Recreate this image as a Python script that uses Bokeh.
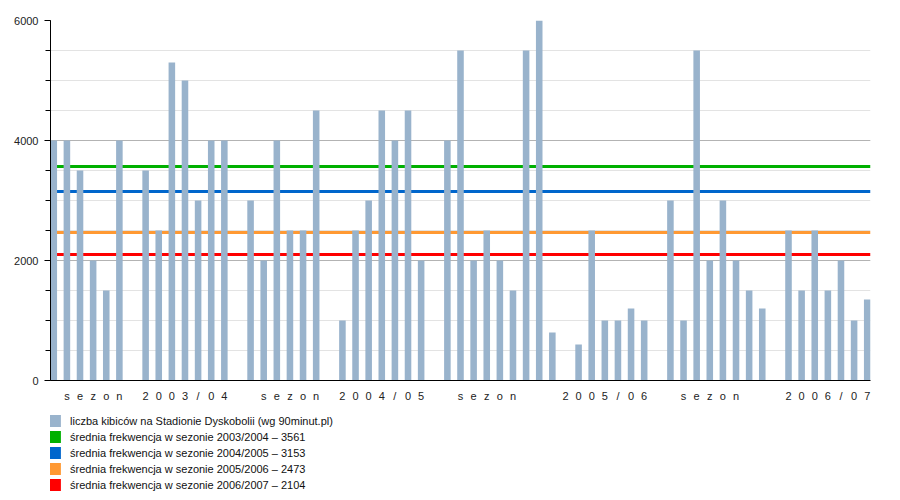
from bokeh.plotting import figure
from bokeh.layouts import column
from bokeh.models import (Range1d, FixedTicker, ColumnDataSource, Legend, LegendItem)
from bokeh.embed import file_html
from bokeh.resources import INLINE
import math

nan = float("nan")

# category labels (one per slot)
labels = ["", "s", "e", "z", "o", "n", "", "2", "0", "0", "3", "/", "0", "4",
          "", "", "s", "e", "z", "o", "n", "", "2", "0", "0", "4", "/", "0", "5",
          "", "", "s", "e", "z", "o", "n", "", "", "", "2", "0", "0", "5", "/", "0", "6",
          "", "", "s", "e", "z", "o", "n", "", "", "", "2", "0", "0", "6", "/", "0", "7"]

# attendance per match (nan = no bar)
attendance = [4000, 4000, 3500, 2000, 1500, 4000, nan, 3500, 2500, 5300, 5000, 3000, 4000, 4000,
              nan, 3000, 2000, 4000, 2500, 2500, 4500, nan, 1000, 2500, 3000, 4500, 4000, 4500, 2000,
              nan, 4000, 5500, 2000, 2500, 2000, 1500, 5500, 6000, 800, nan, 600, 2500, 1000, 1000, 1200, 1000,
              nan, 3000, 1000, 5500, 2000, 3000, 2000, 1500, 1200, nan, 2500, 1500, 2500, 1500, 2000, 1000, 1350]

bar_label = "liczba kibiców na Stadionie Dyskobolii (wg 90minut.pl)"
avg_labels = ["średnia frekwencja w sezonie 2003/2004 – 3561",
              "średnia frekwencja w sezonie 2004/2005 – 3153",
              "średnia frekwencja w sezonie 2005/2006 – 2473",
              "średnia frekwencja w sezonie 2006/2007 – 2104"]
avg_values = [3561, 3153, 2473, 2104]
avg_colors = ["#00b000", "#0066cc", "#ff9933", "#ff0000"]
bar_color = "#99b3cc"

positions = list(range(1, len(labels) + 1))
xs = [x for x, v in zip(positions, attendance) if not math.isnan(v)]
ys = [v for v in attendance if not math.isnan(v)]

FONT = "Liberation Sans"

p = figure(frame_width=820, frame_height=360,
           min_border_left=50, min_border_right=30, min_border_top=20, min_border_bottom=26,
           x_range=Range1d(0.75, len(labels) + 0.25), y_range=Range1d(0, 6000),
           output_backend="svg", toolbar_location=None, tools="")
p.outline_line_color = None
p.background_fill_color = "white"
p.border_fill_color = "white"

# average lines (drawn under bars)
for val, col in zip(avg_values, avg_colors):
    p.hspan(y=[val], line_color=col, line_width=3)

src = ColumnDataSource(dict(x=xs, top=ys))
p.vbar(x="x", top="top", width=0.5, source=src, fill_color=bar_color, line_color=None)

# axes
p.xaxis.ticker = FixedTicker(ticks=positions)
p.xaxis.major_label_overrides = {i: l for i, l in zip(positions, labels)}
p.xaxis.major_tick_line_color = None
p.xaxis.minor_tick_line_color = None
p.xaxis.axis_line_color = "black"
p.xaxis.major_label_standoff = 3
p.xaxis.major_label_text_font = FONT
p.xaxis.major_label_text_font_size = "11px"
p.xaxis.major_label_text_color = "#222222"

p.yaxis.ticker = FixedTicker(ticks=[0, 2000, 4000, 6000],
                             minor_ticks=list(range(0, 6001, 500)))
p.yaxis.axis_line_color = "black"
p.yaxis.major_tick_out = 6
p.yaxis.major_tick_in = 0
p.yaxis.minor_tick_out = 5
p.yaxis.minor_tick_in = 0
p.yaxis.major_label_standoff = 6
p.yaxis.major_label_text_font = FONT
p.yaxis.major_label_text_font_size = "11px"
p.yaxis.major_label_text_color = "#222222"

p.xgrid.grid_line_color = None
p.ygrid.ticker = FixedTicker(ticks=[0, 2000, 4000, 6000],
                             minor_ticks=list(range(0, 6001, 500)))
p.ygrid.grid_line_color = "#b3b3b3"
p.ygrid.minor_grid_line_color = "#e3e3e3"

# legend figure below the chart
q = figure(width=860, height=90, min_border=0, min_border_left=50,
           x_range=Range1d(0, 1), y_range=Range1d(0, 1),
           output_backend="svg", toolbar_location=None, tools="")
q.axis.visible = False
q.grid.visible = False
q.outline_line_color = None

# legend proxies: one swatch each, kept outside the visible range
proxy = ColumnDataSource(dict(x=[-5], top=[-5]))
items = []
for lab, col in zip([bar_label] + avg_labels, [bar_color] + avg_colors):
    r = q.vbar(x="x", top="top", width=0.5, source=proxy, fill_color=col, line_color=None)
    items.append(LegendItem(label=lab, renderers=[r]))

legend = Legend(items=items, location=(-4, 4), orientation="vertical",
                glyph_width=16, glyph_height=15, label_height=15, spacing=1,
                label_standoff=8, padding=0, margin=0,
                label_text_font=FONT, label_text_font_size="11px",
                label_text_color="#111111",
                border_line_color=None, background_fill_alpha=0)
q.add_layout(legend)

open("out.html", "w").write(file_html(column(p, q, spacing=0), INLINE))
